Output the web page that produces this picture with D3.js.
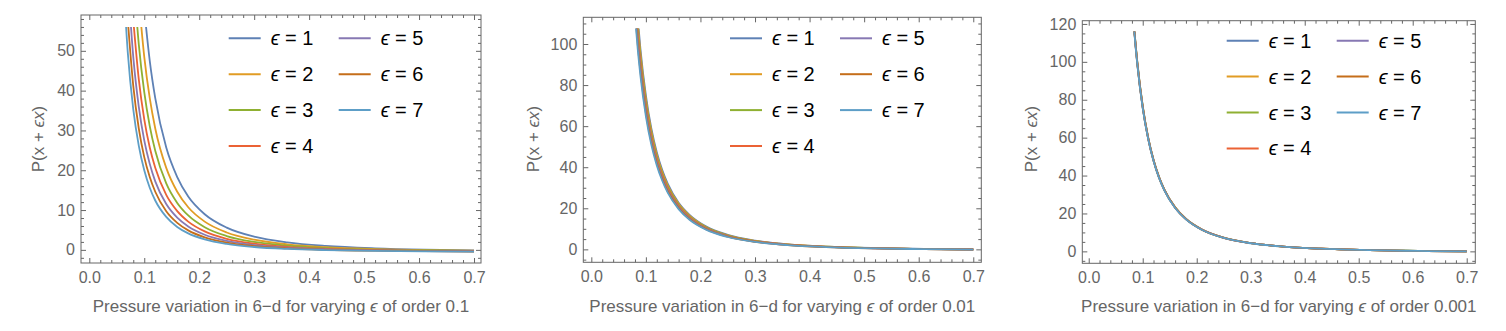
<!DOCTYPE html>
<html lang="en">
<head>
<meta charset="UTF-8">
<title>Pressure variation in 6-d</title>
<script src="https://d3js.org/d3.v7.min.js"></script>
<style>
  body { margin: 0; background: #fff; }
  text { font-family: "Liberation Sans", Arial, sans-serif; }
  .tick text { fill: #666; font-size: 16px; }
  .axis-title { fill: #666; font-size: 17px; }
  .legend text { fill: #000; font-size: 20px; }
</style>
</head>
<body>
<svg id="chart" width="1506" height="331"></svg>
<script>
// epsilon index for each curve, and Mathematica default colours
const epsilons = [1, 2, 3, 4, 5, 6, 7];
const colors = ["#5E81B5", "#E19C24", "#8FB032", "#EB6235", "#8778B3", "#C56E1A", "#5D9EC7"];

// x ticks (same on all three panels)
const xTicks = [0, 0.1, 0.2, 0.3, 0.4, 0.5, 0.6, 0.7];
const yTicks1 = [0, 10, 20, 30, 40, 50];
const yTicks2 = [0, 20, 40, 60, 80, 100];
const yTicks3 = [0, 20, 40, 60, 80, 100, 120];

const orders = ["0.1", "0.01", "0.001"];

// panel 1: epsilon of order 0.1 (null = above the plotted range)
const xs1 = [0.06, 0.07, 0.08, 0.09, 0.10, 0.11, 0.12, 0.14, 0.16, 0.18, 0.21, 0.25, 0.30, 0.36, 0.43, 0.52, 0.61, 0.70];
const p1 = [
  [null, null, null, null, 60.4, 47.5, 38.1, 25.7, 18.3, 13.4, 8.95, 5.58, 3.32, 1.88, 0.99, 0.39, 0.06, -0.13],
  [null, null, null, 63.3, 48.5, 38.1, 30.5, 20.6, 14.6, 10.7, 7.09, 4.37, 2.55, 1.40, 0.68, 0.20, -0.07, -0.22],
  [null, null, 69.6, 51.7, 39.6, 31.1, 24.9, 16.7, 11.8, 8.65, 5.69, 3.47, 1.98, 1.04, 0.45, 0.05, -0.16, -0.29],
  [null, null, 57.8, 42.9, 32.8, 25.7, 20.6, 13.8, 9.72, 7.09, 4.63, 2.78, 1.54, 0.76, 0.27, -0.06, -0.24, -0.34],
  [null, 68.0, 48.5, 36.0, 27.5, 21.6, 17.2, 11.5, 8.08, 5.87, 3.80, 2.25, 1.20, 0.54, 0.13, -0.14, -0.29, -0.38],
  [null, 57.8, 41.2, 30.5, 23.3, 18.3, 14.6, 9.72, 6.79, 4.90, 3.14, 1.82, 0.93, 0.37, 0.02, -0.21, -0.34, -0.42],
  [73.1, 49.6, 35.3, 26.2, 20.0, 15.6, 12.4, 8.27, 5.75, 4.13, 2.62, 1.48, 0.72, 0.24, -0.06, -0.27, -0.38, -0.44]
];

// panel 2: epsilon of order 0.01
const xs2 = [0.08, 0.085, 0.09, 0.10, 0.11, 0.12, 0.13, 0.14, 0.16, 0.18, 0.21, 0.25, 0.30, 0.36, 0.43, 0.52, 0.61, 0.70];
const p2 = [
  [null, 112.9, 97.7, 75.0, 58.9, 47.3, 38.6, 32.0, 22.7, 16.8, 11.2, 7.05, 4.25, 2.47, 1.37, 0.63, 0.22, -0.02],
  [null, 110.1, 95.4, 73.1, 57.5, 46.1, 37.7, 31.2, 22.2, 16.4, 10.9, 6.86, 4.13, 2.40, 1.32, 0.60, 0.20, -0.03],
  [125.1, 107.4, 93.0, 71.4, 56.1, 45.0, 36.7, 30.4, 21.6, 15.9, 10.7, 6.68, 4.02, 2.33, 1.28, 0.57, 0.18, -0.04],
  [122.1, 104.8, 90.8, 69.6, 54.7, 43.9, 35.9, 29.7, 21.1, 15.6, 10.4, 6.51, 3.91, 2.26, 1.23, 0.54, 0.16, -0.06],
  [119.2, 102.4, 88.6, 68.0, 53.4, 42.9, 35.0, 29.0, 20.6, 15.2, 10.1, 6.34, 3.80, 2.19, 1.19, 0.51, 0.15, -0.07],
  [116.4, 99.9, 86.6, 66.4, 52.2, 41.9, 34.2, 28.3, 20.1, 14.8, 9.88, 6.18, 3.70, 2.12, 1.15, 0.49, 0.13, -0.08],
  [113.7, 97.6, 84.5, 64.8, 50.9, 40.9, 33.4, 27.6, 19.6, 14.4, 9.63, 6.02, 3.60, 2.06, 1.11, 0.46, 0.11, -0.10]
];

// panel 3: epsilon of order 0.001
const xs3 = [0.08, 0.085, 0.09, 0.10, 0.11, 0.12, 0.13, 0.14, 0.16, 0.18, 0.21, 0.25, 0.30, 0.36, 0.43, 0.52, 0.61, 0.70];
const p3 = [
  [134.4, 115.4, 100.0, 76.7, 60.3, 48.4, 39.5, 32.7, 23.3, 17.2, 11.5, 7.22, 4.36, 2.54, 1.42, 0.65, 0.24, 0.00],
  [134.1, 115.1, 99.7, 76.5, 60.1, 48.3, 39.4, 32.6, 23.2, 17.1, 11.5, 7.20, 4.35, 2.54, 1.41, 0.65, 0.24, -0.01],
  [133.7, 114.8, 99.5, 76.3, 60.0, 48.1, 39.3, 32.6, 23.2, 17.1, 11.4, 7.18, 4.33, 2.53, 1.41, 0.65, 0.24, -0.01],
  [133.4, 114.5, 99.2, 76.1, 59.8, 48.0, 39.2, 32.5, 23.1, 17.0, 11.4, 7.16, 4.32, 2.52, 1.40, 0.64, 0.23, -0.01],
  [133.1, 114.3, 99.0, 75.9, 59.7, 47.9, 39.1, 32.4, 23.0, 17.0, 11.4, 7.14, 4.31, 2.51, 1.40, 0.64, 0.23, -0.01],
  [132.7, 114.0, 98.7, 75.7, 59.5, 47.8, 39.0, 32.3, 23.0, 17.0, 11.3, 7.12, 4.30, 2.50, 1.39, 0.64, 0.23, -0.01],
  [132.4, 113.7, 98.5, 75.5, 59.4, 47.7, 38.9, 32.2, 22.9, 16.9, 11.3, 7.10, 4.28, 2.50, 1.39, 0.63, 0.23, -0.01]
];

// layout of the three panels
const panels = [
  { xs: xs1, vals: p1, yTicks: yTicks1, yMinor: 2, order: orders[0],
    frame: [81, 481, 15, 263], xDom: [-0.0151, 0.7127], yDom: [-3.3, 59.0], clipTop: 56,
    legend: [228.7, 38.3], yTitleX: 38 },
  { xs: xs2, vals: p2, yTicks: yTicks2, yMinor: 5, order: orders[1],
    frame: [583.3, 981.3, 17.3, 262.3], xDom: [-0.0147, 0.7147], yDom: [-6.3, 113.0], clipTop: 107.6,
    legend: [730, 38.3], yTitleX: 533 },
  { xs: xs3, vals: p3, yTicks: yTicks3, yMinor: 5, order: orders[2],
    frame: [1082.3, 1475.3, 20.7, 263.3], xDom: [-0.0119, 0.7159], yDom: [-6.3, 121.7], clipTop: 116,
    legend: [1226.7, 40.7], yTitleX: 1031 }
];

const svg = d3.select("#chart");

panels.forEach((p, pi) => {
  const [fx0, fx1, fy0, fy1] = p.frame;
  const x = d3.scaleLinear().domain(p.xDom).range([fx0, fx1]);
  const y = d3.scaleLinear().domain(p.yDom).range([fy1, fy0]);

  const xMinor = d3.range(0, 36).filter(i => i % 5 !== 0).map(i => i * 0.02)
    .filter(v => v > p.xDom[0] && v < p.xDom[1]);
  const majorStep = p.yTicks[1] - p.yTicks[0];
  const yMinor = d3.range(Math.ceil(p.yDom[0] / p.yMinor), Math.floor(p.yDom[1] / p.yMinor) + 1)
    .map(i => i * p.yMinor)
    .filter(v => Math.abs(v % majorStep) > 1e-9);

  const g = svg.append("g").attr("class", "panel");

  // clip curves at the top of the plotted range
  const clipId = "clip" + pi;
  g.append("clipPath").attr("id", clipId)
    .append("rect")
    .attr("x", fx0).attr("width", fx1 - fx0)
    .attr("y", y(p.clipTop)).attr("height", fy1 - y(p.clipTop));

  const line = d3.line()
    .defined(d => d[1] !== null)
    .x(d => x(d[0]))
    .y(d => y(d[1]))
    .curve(d3.curveMonotoneX);

  g.append("g").attr("clip-path", `url(#${clipId})`)
    .selectAll("path")
    .data(p.vals)
    .enter()
    .append("path")
    .attr("fill", "none")
    .attr("stroke", (d, i) => colors[i])
    .attr("stroke-width", 1.8)
    .attr("stroke-linejoin", "round")
    .attr("d", vals => line(p.xs.map((xv, j) => [xv, vals[j]])));

  // frame ticks on all four sides, pointing inward
  const addAxis = (axis, tx, ty, major, minor, labels, pad) => {
    const a = g.append("g").attr("transform", `translate(${tx},${ty})`).attr("color", "#666");
    a.call(axis.tickValues(major).tickSize(-5).tickPadding(pad)
      .tickFormat(labels ? labels : () => ""));
    a.select(".domain").remove();
    const b = g.append("g").attr("transform", `translate(${tx},${ty})`).attr("color", "#666");
    b.call(axis.tickValues(minor).tickSize(-3).tickFormat(() => ""));
    b.select(".domain").remove();
    b.selectAll("text").remove();
  };
  addAxis(d3.axisBottom(x), 0, fy1, xTicks, xMinor, d3.format(".1f"), 8.3);
  addAxis(d3.axisTop(x), 0, fy0, xTicks, xMinor, null, 3);
  addAxis(d3.axisLeft(y), fx0, 0, p.yTicks, yMinor, d3.format("d"), 6);
  addAxis(d3.axisRight(y), fx1, 0, p.yTicks, yMinor, null, 3);

  g.append("rect")
    .attr("x", fx0).attr("y", fy0)
    .attr("width", fx1 - fx0).attr("height", fy1 - fy0)
    .attr("fill", "none").attr("stroke", "#666").attr("stroke-width", 1);

  // axis titles
  const xt = g.append("text").attr("class", "axis-title")
    .attr("x", (fx0 + fx1) / 2).attr("y", 311.5).attr("text-anchor", "middle");
  xt.append("tspan").text("Pressure variation in 6\u2212d for varying ");
  xt.append("tspan").attr("font-style", "italic").text("\u03f5");
  xt.append("tspan").text(" of order " + p.order);

  const yt = g.append("text").attr("class", "axis-title")
    .attr("transform", `translate(${p.yTitleX + 6},139) rotate(-90)`)
    .attr("text-anchor", "middle");
  yt.append("tspan").text("P(x + ");
  yt.append("tspan").attr("font-style", "italic").text("\u03f5x");
  yt.append("tspan").text(")");

  // legend: two columns
  const leg = g.append("g").attr("class", "legend");
  epsilons.forEach((e, i) => {
    const col = i < 4 ? 0 : 1;
    const row = i < 4 ? i : i - 4;
    const lx = p.legend[0] + col * 110;
    const ly = p.legend[1] + row * 35.9;
    leg.append("line")
      .attr("x1", lx).attr("x2", lx + 32)
      .attr("y1", ly).attr("y2", ly)
      .attr("stroke", colors[i]).attr("stroke-width", 2);
    const t = leg.append("text").attr("x", lx + 42).attr("y", ly + 7);
    t.append("tspan").attr("font-style", "italic").text("\u03f5");
    t.append("tspan").text(" = " + e);
  });
});
</script>
</body>
</html>
